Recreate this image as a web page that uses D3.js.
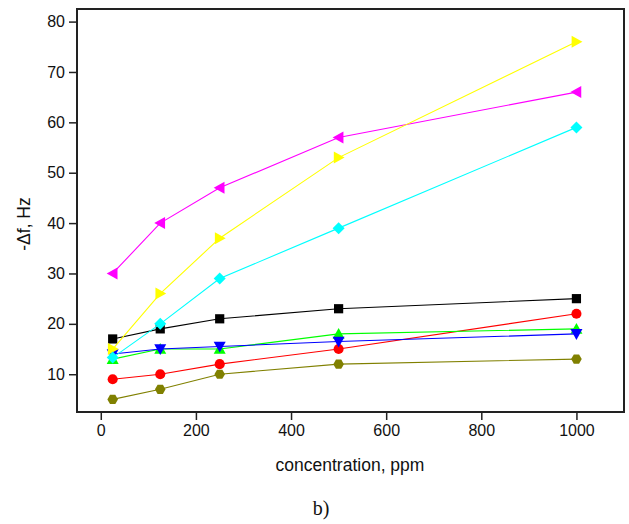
<!DOCTYPE html>
<html>
<head>
<meta charset="utf-8">
<script src="https://cdn.jsdelivr.net/npm/d3@7"></script>
<style>
  body { margin: 0; background: #fff; }
  svg text { font-family: 'Liberation Sans', Arial, sans-serif; fill: #111; }
</style>
</head>
<body>
<svg id="chart" width="629" height="524"></svg>
<script>
const concentrations = [25, 125, 250, 500, 1000]

const blackSquares = [17, 19, 21, 23, 25]
const redCircles = [9, 10, 12, 15, 22]
const greenUp = [13, 15, 15, 18, 19]
const blueDown = [14, 15, 15.5, 16.5, 18]
const magentaLeft = [30, 40, 47, 57, 66]
const yellowRight = [15, 26, 37, 53, 76]
const cyanDiamonds = [13.3, 20, 29, 39, 59]
const oliveHexagons = [5, 7, 10, 12, 13]

const xTicks = [0, 200, 400, 600, 800, 1000]
const yTicks = [10, 20, 30, 40, 50, 60, 70, 80]

const series = [
  {values: blackSquares, color: '#000000', shape: 'square'},
  {values: redCircles, color: '#ff0000', shape: 'circle'},
  {values: greenUp, color: '#00ff00', shape: 'up'},
  {values: blueDown, color: '#0000ff', shape: 'down'},
  {values: magentaLeft, color: '#ff00ff', shape: 'left'},
  {values: yellowRight, color: '#ffff00', shape: 'right'},
  {values: cyanDiamonds, color: '#00ffff', shape: 'diamond'},
  {values: oliveHexagons, color: '#808000', shape: 'hexagon'}
]

const margin = {top: 9, right: 5, bottom: 112, left: 77}
const width = 629 - margin.left - margin.right
const height = 524 - margin.top - margin.bottom

const xScale = d3.scaleLinear().domain([-50, 1100]).range([0, width])
const yScale = d3.scaleLinear().domain([2.5, 82.5]).range([height, 0])

const svg = d3.select('#chart')
const g = svg.append('g')
  .attr('transform', `translate(${margin.left}, ${margin.top})`)

function markerPath (shape) {
  const r = 6
  if (shape === 'square') return `M${-4.6},${-4.6}H4.6V4.6H-4.6Z`
  if (shape === 'circle') return d3.symbol(d3.symbolCircle, 80)()
  if (shape === 'up') return `M0,${-r}L${r},${r * 0.8}L${-r},${r * 0.8}Z`
  if (shape === 'down') return `M0,${r}L${r},${-r * 0.8}L${-r},${-r * 0.8}Z`
  if (shape === 'left') return `M${-r},0L${r * 0.8},${-r}L${r * 0.8},${r}Z`
  if (shape === 'right') return `M${r},0L${-r * 0.8},${-r}L${-r * 0.8},${r}Z`
  if (shape === 'diamond') return `M0,${-r}L${r},0L0,${r}L${-r},0Z`
  if (shape === 'hexagon') {
    const pts = d3.range(6).map(i => {
      const a = Math.PI / 3 * i
      return [5.3 * Math.cos(a), 5.3 * Math.sin(a)]
    })
    return 'M' + pts.join('L') + 'Z'
  }
}

const line = d3.line()
  .x((d, i) => xScale(concentrations[i]))
  .y(d => yScale(d))

for (const s of series) {
  g.append('path')
    .datum(s.values)
    .attr('fill', 'none')
    .attr('stroke', s.color)
    .attr('stroke-width', 1.1)
    .attr('d', line)
  g.selectAll(null)
    .data(s.values)
    .enter()
    .append('path')
    .attr('d', markerPath(s.shape))
    .attr('fill', s.color)
    .attr('transform', (d, i) => `translate(${xScale(concentrations[i])}, ${yScale(d)})`)
}

// frame
g.append('rect')
  .attr('width', width)
  .attr('height', height)
  .attr('fill', 'none')
  .attr('stroke', '#222')
  .attr('stroke-width', 2)

// x axis
const xAxis = g.append('g')
  .attr('transform', `translate(0, ${height})`)
xAxis.call(d3.axisBottom(xScale).tickValues(d3.range(100, 1100, 200)).tickSize(5).tickFormat(''))
xAxis.call(d3.axisBottom(xScale).tickValues(xTicks).tickSize(8).tickPadding(5).tickFormat(d3.format('d')))
xAxis.selectAll('.domain').remove()
xAxis.selectAll('line').attr('stroke', '#222').attr('stroke-width', 1.5)
xAxis.selectAll('text').style('font-size', '16px').attr('fill', '#111')

// y axis
const yAxis = g.append('g')
yAxis.call(d3.axisLeft(yScale).tickValues(d3.range(5, 85, 10)).tickSize(5).tickFormat(''))
yAxis.call(d3.axisLeft(yScale).tickValues(yTicks).tickSize(8).tickPadding(4))
yAxis.selectAll('.domain').remove()
yAxis.selectAll('line').attr('stroke', '#222').attr('stroke-width', 1.5)
yAxis.selectAll('text').style('font-size', '16px').attr('fill', '#111')

// axis titles
svg.append('text')
  .attr('x', 350)
  .attr('y', 471)
  .attr('text-anchor', 'middle')
  .style('font-size', '17.5px')
  .text('concentration, ppm')

svg.append('text')
  .attr('transform', 'translate(30, 224) rotate(-90)')
  .attr('text-anchor', 'middle')
  .style('font-size', '17.5px')
  .text('-Δf, Hz')

svg.append('text')
  .attr('x', 321)
  .attr('y', 515)
  .attr('text-anchor', 'middle')
  .style('font-family', "'Liberation Serif', 'Times New Roman', serif")
  .style('font-size', '20px')
  .text('b)')
</script>
</body>
</html>
